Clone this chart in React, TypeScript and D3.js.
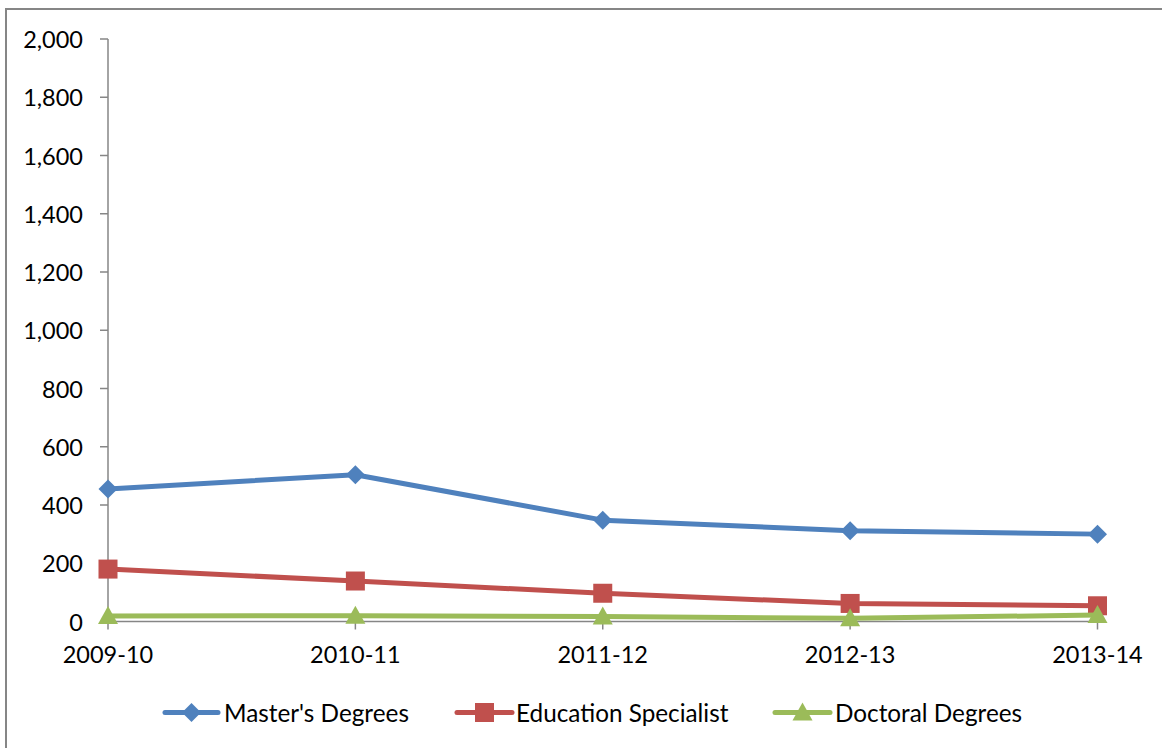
import React from "react";
import * as d3 from "d3";

const categories = ["2009-10", "2010-11", "2011-12", "2012-13", "2013-14"];
const mastersDegrees = [455, 504, 348, 312, 300];
const educationSpecialist = [180, 139, 97, 62, 54];
const doctoralDegrees = [19, 20, 17, 11, 22];
const yTicks = [0, 200, 400, 600, 800, 1000, 1200, 1400, 1600, 1800, 2000];

const seriesNames = ["Master's Degrees", "Education Specialist", "Doctoral Degrees"];
const seriesColors = ["#4F81BD", "#C0504D", "#9BBB59"];
const seriesShapes = ["diamond", "square", "triangle"];

const W = 1162;
const H = 748;
const FONT = "Lato, 'Open Sans', sans-serif";

function Marker({ shape, x, y, color }: { shape: string; x: number; y: number; color: string }) {
  if (shape === "diamond") {
    const r = 9.5;
    return <path d={`M${x},${y - r}L${x + r},${y}L${x},${y + r}L${x - r},${y}Z`} fill={color} />;
  }
  if (shape === "square") {
    const s = 9.5;
    return <rect x={x - s} y={y - s} width={s * 2} height={s * 2} fill={color} />;
  }
  const r = 10;
  return <path d={`M${x},${y - r}L${x + r},${y + r * 0.8}L${x - r},${y + r * 0.8}Z`} fill={color} />;
}

export default function App() {
  const x = d3.scalePoint<string>().domain(categories).range([108, 1097.5]);
  const y = d3.scaleLinear().domain([0, 2000]).range([621.5, 39]);
  const allSeries = [mastersDegrees, educationSpecialist, doctoralDegrees];
  const line = d3
    .line<number>()
    .x((_, i) => x(categories[i]) as number)
    .y((d) => y(d));
  const fmt = d3.format(",");

  const legendItems = [
    { lineX0: 165, lineX1: 218, textX: 224 },
    { lineX0: 457, lineX1: 512, textX: 516 },
    { lineX0: 775, lineX1: 830, textX: 835 },
  ];
  const legendY = 712.5;

  return (
    <div style={{ position: "absolute", left: 0, top: 0 }}>
      <svg width={W} height={H} style={{ display: "block", background: "#fff" }}>
        <rect x={6} y={9} width={W + 10} height={H + 10} fill="#fff" stroke="#868686" strokeWidth={2} />
        {/* y axis */}
        <line x1={108} x2={108} y1={y(2000)} y2={y(0)} stroke="#868686" strokeWidth={1.5} />
        {yTicks.map((t) => (
          <g key={t}>
            <line x1={100} x2={108} y1={y(t)} y2={y(t)} stroke="#868686" strokeWidth={1.5} />
            <text
              x={83}
              y={y(t)}
              textAnchor="end"
              dominantBaseline="central"
              fontFamily={FONT}
              fontSize={23.5}
              fill="#000"
            >
              {fmt(t)}
            </text>
          </g>
        ))}
        {/* x axis */}
        <line x1={108} x2={1097.5} y1={y(0)} y2={y(0)} stroke="#868686" strokeWidth={1.5} />
        {categories.map((c) => (
          <g key={c}>
            <line x1={x(c)} x2={x(c)} y1={y(0)} y2={y(0) + 8} stroke="#868686" strokeWidth={1.5} />
            <text x={x(c)} y={663} textAnchor="middle" fontFamily={FONT} fontSize={23.5} fill="#000">
              {c}
            </text>
          </g>
        ))}
        {/* series */}
        {allSeries.map((s, si) => (
          <g key={si}>
            <path d={line(s) || ""} fill="none" stroke={seriesColors[si]} strokeWidth={5} strokeLinejoin="round" strokeLinecap="round" />
            {s.map((v, i) => (
              <Marker key={i} shape={seriesShapes[si]} x={x(categories[i]) as number} y={y(v)} color={seriesColors[si]} />
            ))}
          </g>
        ))}
        {/* legend */}
        {seriesNames.map((n, si) => {
          const it = legendItems[si];
          return (
            <g key={n}>
              <line x1={it.lineX0} x2={it.lineX1} y1={legendY} y2={legendY} stroke={seriesColors[si]} strokeWidth={5} strokeLinecap="round" />
              <Marker shape={seriesShapes[si]} x={(it.lineX0 + it.lineX1) / 2} y={legendY} color={seriesColors[si]} />
              <text x={it.textX} y={legendY} dominantBaseline="central" fontFamily={FONT} fontSize={24.3} fill="#000">
                {n}
              </text>
            </g>
          );
        })}
      </svg>
    </div>
  );
}
